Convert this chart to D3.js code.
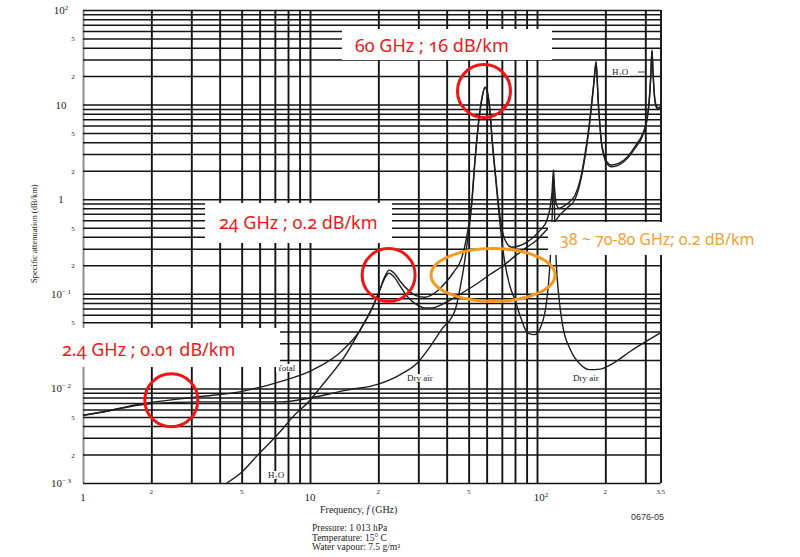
<!DOCTYPE html>
<html>
<head>
<meta charset="utf-8">
<script src="https://cdn.jsdelivr.net/npm/d3@7"></script>
<style>
  body { margin: 0; background: #fff; }
  svg { display: block; background: #fff; }
  .grid path { display: none; }
  .xgrid line { stroke: #141414; stroke-width: 1.9; }
  .ygrid line { stroke: #141414; stroke-width: 1.5; }
  .serif { font-family: "Liberation Serif", "DejaVu Serif", serif; fill: #222; }
  .curve { fill: none; stroke: #1e1e1e; stroke-width: 1.4; stroke-linejoin: round; }
  .note { font-family: "Noto Sans", sans-serif; font-feature-settings: "onum" 1; font-variant-numeric: oldstyle-nums; }
</style>
</head>
<body>
<div id="chart"></div>
<script>
// gridlines (GHz / dB/km)
const xGrid = [1, 2, 3, 4, 5, 6, 7, 8, 9, 10, 20, 30, 40, 50, 60, 70, 80, 90, 100, 200, 300, 350];
const yGrid = [0.001, 0.002, 0.003, 0.004, 0.005, 0.006, 0.007, 0.008, 0.009,
  0.01, 0.02, 0.03, 0.04, 0.05, 0.06, 0.07, 0.08, 0.09,
  0.1, 0.2, 0.3, 0.4, 0.5, 0.6, 0.7, 0.8, 0.9,
  1, 2, 3, 4, 5, 6, 7, 8, 9,
  10, 20, 30, 40, 50, 60, 70, 80, 90, 100];

// tick labels (the "2" at 0.02 sits under the 2.4 GHz note and is not shown)
const xLabelVals = [1, 2, 5, 10, 20, 50, 100, 200, 350];
const xLabelMain = ["1", "2", "5", "10", "2", "5", "10", "2", "3.5"];
const xLabelSup  = ["", "", "", "", "", "", "2", "", ""];
const yLabelVals = [100, 50, 20, 10, 5, 2, 1, 0.5, 0.2, 0.1, 0.05, 0.01, 0.005, 0.002, 0.001];
const yLabelMain = ["10", "5", "2", "10", "5", "2", "1", "5", "2", "10", "5", "10", "5", "2", "10"];
const yLabelSup  = ["2", "", "", "", "", "", "", "", "", "\u2212 1", "", "\u2212 2", "", "", "\u2212 3"];

// curves [frequency GHz, attenuation dB/km]
const totalCurve = [[1,0.0052],[1.3,0.0058],[1.6,0.0065],[2,0.0071],[2.5,0.0076],[3.3,0.0082],[4.9,0.0092],
  [7.4,0.0118],[10.3,0.0157],[13.5,0.0237],[16.6,0.041],[18.9,0.073],[20.3,0.11],[21.3,0.15],[22.3,0.178],
  [23.5,0.165],[25,0.135],[27,0.11],[29.5,0.095],[32,0.092],[36,0.105],[39.4,0.13],[43,0.17],[46.6,0.24],
  [49,0.4],[51.5,0.9],[53.3,2.6],[56,8.5],[57.5,12.5],[59,15.3],[60.5,13.5],[62,8.8],[63.5,4.2],[66,1.6],
  [68,0.8],[72,0.38],[77.6,0.31],[83,0.32],[90,0.35],[98,0.41],[104,0.48],[110,0.58],[114,0.8],[116.5,1.2],
  [118.2,2.05],[119.5,1.3],[121.5,0.9],[125,0.8],[132,0.85],[140,0.95],[147,1.1],[155,1.6],[162,2.8],
  [168,5],[173,9],[177,15],[180,23],[182,28.5],[184,20],[186,11.2],[189,6.5],[192,4.2],[197,3],[203,2.5],
  [213,2.3],[230,2.4],[250,2.8],[270,3.6],[293,5],[305,7],[312,11],[317,20],[321,38],[324,24],[328,14],
  [334,10],[342,9.2],[350,9.6]];

const dryCurve = [[1,0.0052],[1.3,0.0058],[1.6,0.0064],[2,0.0069],[2.5,0.0071],[3.3,0.0072],[5,0.0072],
  [7.4,0.0072],[10,0.0079],[14.5,0.0096],[20,0.0111],[25,0.014],[30,0.019],[33,0.0255],[38,0.042],
  [43.6,0.0675],[46,0.12],[48.1,0.227],[49.5,0.38],[51.5,0.85],[53.3,2.5],[56,8.3],[57.5,12.3],[59,15.1],
  [60.5,13.3],[62,8.6],[63.5,4],[66,1.5],[68,0.7],[72,0.22],[76,0.12],[80,0.086],[85,0.055],[91,0.0385],
  [98,0.037],[104,0.045],[110,0.08],[114,0.2],[116.5,0.6],[118.2,1.8],[119.5,0.7],[121.5,0.22],[125,0.09],
  [130,0.045],[140,0.026],[155,0.018],[170,0.0158],[190,0.016],[217,0.0185],[260,0.025],[300,0.031],[350,0.0386]];

const h2oCurve = [[4.3,0.001],[5,0.0013],[5.8,0.0019],[7.4,0.0035],[8.4,0.005],[10,0.0075],[11.1,0.0102],
  [14.5,0.0235],[17.2,0.048],[19,0.075],[20.3,0.11],[21.3,0.145],[22.3,0.165],[23.5,0.15],[25,0.12],
  [27,0.092],[29.5,0.077],[32,0.071],[34.4,0.071],[40,0.082],[46.5,0.101],[55,0.13],[62,0.16],[69.8,0.192],
  [80,0.25],[90,0.31],[100,0.37],[108,0.45],[118,0.55],[126,0.68],[135,0.8],[147,1.0],[155,1.5],[162,2.6],
  [168,4.7],[173,8.5],[177,14.5],[180,22],[182,27.5],[184,19],[186,10.8],[189,6.2],[192,4],[197,2.85],
  [203,2.38],[213,2.2],[230,2.3],[250,2.7],[270,3.45],[293,4.8],[305,6.8],[312,10.6],[317,19.5],[321,37],
  [324,23],[328,13.5],[334,9.6],[342,8.9],[350,9.2]];

// highlighted points [GHz, dB/km]
const circleMarks = [[58.4,13.9],[22.2,0.158],[2.45,0.0075]];
const ellipseMark = [64, 0.158];

let svg = d3.select('#chart').append('svg')
  .attr('width', 800)
  .attr('height', 557);

let x = d3.scaleLog().domain([1, 350]).range([83, 660.5]);
let y = d3.scaleLog().domain([0.001, 100]).range([483, 10]);

// grid from the axes
let xAxis = d3.axisBottom(x).tickValues(xGrid).tickSize(-(483 - 10)).tickFormat("");
let yAxis = d3.axisLeft(y).tickValues(yGrid).tickSize(-(660.5 - 83)).tickFormat("");
svg.append('g').attr('class', 'grid xgrid')
  .attr('transform', 'translate(0,483)')
  .call(xAxis);
svg.append('g').attr('class', 'grid ygrid')
  .attr('transform', 'translate(83,0)')
  .call(yAxis);
svg.select('.xgrid .tick line').style('stroke', '#888');

// curves
let line = d3.line()
  .x((d)=> x(d[0]))
  .y((d)=> y(d[1]))
  .curve(d3.curveMonotoneX);

svg.append('g')
  .selectAll('path').data([dryCurve, h2oCurve, totalCurve]).enter()
  .append('path')
  .attr('class', 'curve')
  .attr('d', line);

// tick labels
let isDecade = (v)=> Math.abs(Math.log10(v) - Math.round(Math.log10(v))) < 1e-9;

let yl = svg.append('g').attr('class', 'serif');
yLabelVals.forEach((v, i)=> {
  let big = isDecade(v);
  let t = yl.append('text')
    .attr('x', big ? 61 : 73)
    .attr('y', y(v) + (big ? 4 : 3))
    .attr('text-anchor', 'middle')
    .attr('font-size', big ? 11 : 7)
    .text(yLabelMain[i]);
  if (yLabelSup[i]) {
    t.append('tspan').attr('dy', -4).attr('font-size', 7).text(yLabelSup[i]);
  }
});

let xl = svg.append('g').attr('class', 'serif');
xLabelVals.forEach((v, i)=> {
  let big = isDecade(v);
  let t = xl.append('text')
    .attr('x', x(v) + (xLabelSup[i] ? 4 : 0))
    .attr('y', big ? 501 : 494)
    .attr('text-anchor', 'middle')
    .attr('font-size', big ? 11 : 7)
    .text(xLabelMain[i]);
  if (xLabelSup[i]) {
    t.append('tspan').attr('dy', -4).attr('font-size', 7).text(xLabelSup[i]);
  }
});

// axis titles and notes
svg.append('text').attr('class', 'serif')
  .attr('transform', 'translate(37,283) rotate(-90)')
  .attr('font-size', 8.5)
  .text('Specific attenuation (dB/km)');

let ft = svg.append('text').attr('class', 'serif')
  .attr('x', 320).attr('y', 513)
  .attr('font-size', 10);
ft.append('tspan').text('Frequency, ');
ft.append('tspan').attr('font-style', 'italic').text('f');
ft.append('tspan').text(' (GHz)');

svg.append('text')
  .attr('x', 664).attr('y', 520)
  .attr('text-anchor', 'end')
  .attr('font-family', 'Liberation Sans, sans-serif')
  .attr('font-size', 9)
  .attr('fill', '#333')
  .text('0676-05');

let notes = ["Pressure: 1 013 hPa", "Temperature: 15\u00b0 C", "Water vapour: 7.5 g/m\u00b3"];
svg.append('g').attr('class', 'serif')
  .selectAll('text').data(notes).enter()
  .append('text')
  .attr('x', 312)
  .attr('y', (d, i)=> 531 + i * 9.7)
  .attr('font-size', 9.5)
  .text((d)=> d);

// curve labels on white
let curveLabels = [
  {t: "Total", x: 277, y: 371},
  {t: "Dry air", x: 407, y: 381},
  {t: "Dry air", x: 573, y: 381},
  {t: "H\u2082O", x: 268, y: 478},
  {t: "H\u2082O", x: 612, y: 75}
];
let cl = svg.append('g').attr('class', 'serif');
curveLabels.forEach((c)=> {
  let t = cl.append('text').attr('x', c.x).attr('y', c.y).attr('font-size', 9).text(c.t);
  let b = t.node().getBBox();
  cl.insert('rect', 'text')
    .attr('x', b.x - 1).attr('y', b.y + 1)
    .attr('width', b.width + 2).attr('height', b.height - 2)
    .attr('fill', '#fff');
});
cl.append('line')
  .attr('x1', 638).attr('x2', 646).attr('y1', 72).attr('y2', 72)
  .attr('stroke', '#444').attr('stroke-width', 1);

// annotation boxes
let boxes = [
  {t: "60 GHz ; 16 dB/km", bx: 342, by: 29, bw: 210, bh: 31, tx: 355, ty: 52, size: 18, c: "#f01616"},
  {t: "24 GHz ; 0.2 dB/km", bx: 205, by: 203, bw: 187, bh: 40, tx: 219, ty: 229, size: 18, c: "#f01616"},
  {t: "2.4 GHz ; 0.01 dB/km", bx: 30, by: 328, bw: 250, bh: 39, tx: 62, ty: 356, size: 18, c: "#f01616"},
  {t: "38 ~ 70-80 GHz; 0.2 dB/km", bx: 548, by: 222, bw: 252, bh: 33, tx: 560, ty: 245, size: 16, c: "#f5a030"}
];
let ann = svg.append('g');
ann.selectAll('rect').data(boxes).enter().append('rect')
  .attr('x', (d)=> d.bx).attr('y', (d)=> d.by)
  .attr('width', (d)=> d.bw).attr('height', (d)=> d.bh)
  .attr('fill', '#fff');
ann.selectAll('text').data(boxes).enter().append('text')
  .attr('class', 'note')
  .attr('x', (d)=> d.tx).attr('y', (d)=> d.ty)
  .attr('font-size', (d)=> d.size)
  .attr('fill', (d)=> d.c)
  .text((d)=> d.t);

// circles and ellipse
svg.append('g').selectAll('circle').data(circleMarks).enter()
  .append('circle')
  .attr('cx', (d)=> x(d[0]))
  .attr('cy', (d)=> y(d[1]))
  .attr('r', 26.5)
  .attr('fill', 'none')
  .attr('stroke', '#f01414')
  .attr('stroke-width', 3);

svg.append('ellipse')
  .attr('cx', x(ellipseMark[0]))
  .attr('cy', y(ellipseMark[1]))
  .attr('rx', 62)
  .attr('ry', 26.5)
  .attr('fill', 'none')
  .attr('stroke', '#f39a1e')
  .attr('stroke-width', 3);
</script>
</body>
</html>
